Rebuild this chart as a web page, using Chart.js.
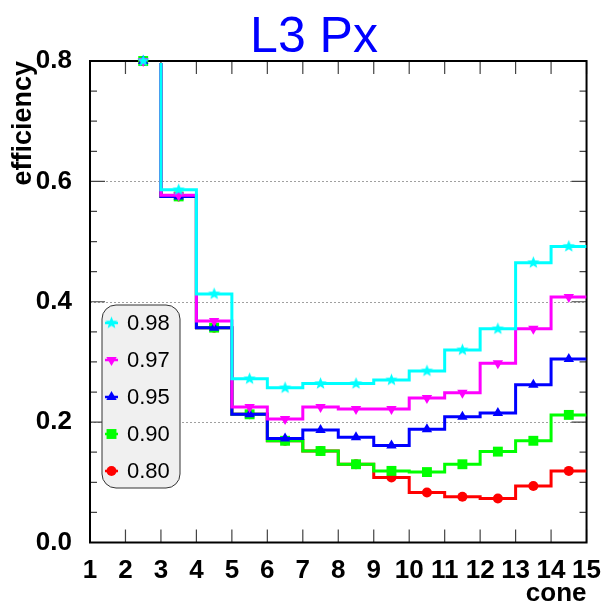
<!DOCTYPE html>
<html>
<head>
<meta charset="utf-8">
<script src="https://cdn.jsdelivr.net/npm/chart.js@4.4.1/dist/chart.umd.min.js"></script>
<style>
  html, body { margin: 0; padding: 0; background: #ffffff; }
  canvas { display: block; }
</style>
</head>
<body>
<canvas id="c" width="606" height="606"></canvas>
<script>
// Histogram bins along the cone axis: lower edges and centres
const binEdges   = [2, 3, 4, 5, 6, 7, 8, 9, 10, 11, 12, 13, 14, 15];
const binCenters = [2.5, 3.5, 4.5, 5.5, 6.5, 7.5, 8.5, 9.5, 10.5, 11.5, 12.5, 13.5, 14.5];

// Efficiency per bin for each working point
const eff098 = [0.800, 0.586, 0.413, 0.272, 0.257, 0.264, 0.264, 0.270, 0.285, 0.320, 0.355, 0.465, 0.492];
const eff097 = [0.800, 0.577, 0.368, 0.225, 0.205, 0.225, 0.222, 0.222, 0.240, 0.249, 0.298, 0.355, 0.408];
const eff095 = [0.800, 0.575, 0.357, 0.213, 0.173, 0.187, 0.175, 0.161, 0.188, 0.209, 0.215, 0.262, 0.305];
const eff090 = [0.800, 0.575, 0.357, 0.213, 0.169, 0.152, 0.130, 0.119, 0.117, 0.130, 0.151, 0.169, 0.212];
const eff080 = [0.800, 0.575, 0.357, 0.213, 0.169, 0.152, 0.130, 0.108, 0.083, 0.076, 0.073, 0.094, 0.119];

const seriesLabels = ['0.98', '0.97', '0.95', '0.90', '0.80'];
const seriesValues = [eff098, eff097, eff095, eff090, eff080];

// Axis ticks
const xTickValues = [1, 2, 3, 4, 5, 6, 7, 8, 9, 10, 11, 12, 13, 14, 15];
const yTickValues = [0, 0.2, 0.4, 0.6, 0.8];
const yTickLabels = ['0.0', '0.2', '0.4', '0.6', '0.8'];

const chartTitle = 'L3 Px';
const xTitle = 'cone';
const yTitle = 'efficiency';

const FONT = "'Liberation Sans', Arial, Helvetica, sans-serif";

// Filled five-pointed star used as a marker
function makeStar(color, outer, inner) {
  const size = Math.ceil(outer * 2 + 2);
  const cv = document.createElement('canvas');
  cv.width = size; cv.height = size;
  const g = cv.getContext('2d');
  const cx = size / 2, cy = size / 2;
  g.beginPath();
  for (let k = 0; k < 10; k++) {
    const r = k % 2 === 0 ? outer : inner;
    const a = -Math.PI / 2 + k * Math.PI / 5;
    const px = cx + r * Math.cos(a), py = cy + r * Math.sin(a);
    if (k === 0) g.moveTo(px, py); else g.lineTo(px, py);
  }
  g.closePath();
  g.fillStyle = color;
  g.fill();
  return cv;
}

const styles = [
  { color: '#00ffff', pointStyle: makeStar('#00ffff', 6.5, 2.8), radius: 6, rotation: 0 },
  { color: '#ff00ff', pointStyle: 'triangle', radius: 6, rotation: 180 },
  { color: '#0000ff', pointStyle: 'triangle', radius: 6, rotation: 0 },
  { color: '#00ff00', pointStyle: 'rect', radius: 7, rotation: 0 },
  { color: '#ff0000', pointStyle: 'circle', radius: 5, rotation: 0 }
];

// One stepped outline plus one marker set per series; the first dataset is painted last
const datasets = [];
seriesValues.forEach((vals, s) => {
  const st = styles[s];
  datasets.push({
    label: seriesLabels[s],
    kind: 'markers',
    data: binCenters.map((x, i) => ({ x, y: vals[i] })),
    showLine: false,
    pointStyle: st.pointStyle,
    pointRadius: st.radius,
    pointRotation: st.rotation,
    pointBackgroundColor: st.color,
    pointBorderColor: st.color,
    pointBorderWidth: 0,
    clip: false
  });
  datasets.push({
    label: seriesLabels[s] + ' outline',
    kind: 'outline',
    data: binEdges.map((x, i) => ({ x, y: vals[Math.min(i, vals.length - 1)] })),
    stepped: true,
    borderColor: st.color,
    borderWidth: 3,
    pointRadius: 0,
    fill: false,
    clip: { left: 0, top: -2, right: 0, bottom: 0 }
  });
});

// Frame, inward tick marks and dotted grid
const framePlugin = {
  id: 'frame',
  beforeDatasetsDraw(chart) {
    const { ctx, chartArea: a, scales: { x, y } } = chart;
    ctx.save();
    ctx.strokeStyle = '#a0a0a0';
    ctx.lineWidth = 1;
    ctx.setLineDash([2, 2]);
    yTickValues.forEach(v => {
      if (v <= 0 || v >= 0.8) return;
      const py = Math.round(y.getPixelForValue(v)) + 0.5;
      ctx.beginPath(); ctx.moveTo(a.left, py); ctx.lineTo(a.right, py); ctx.stroke();
    });
    ctx.setLineDash([]);

    ctx.strokeStyle = '#444';
    ctx.lineWidth = 1.2;
    for (let k = 0; k <= 16; k++) {
      const v = k * 0.05;
      const py = y.getPixelForValue(v);
      const len = (k % 4 === 0) ? 15 : 7;
      ctx.beginPath();
      ctx.moveTo(a.left, py); ctx.lineTo(a.left + len, py);
      ctx.moveTo(a.right, py); ctx.lineTo(a.right - len, py);
      ctx.stroke();
    }
    xTickValues.forEach(v => {
      const px = x.getPixelForValue(v);
      ctx.beginPath();
      ctx.moveTo(px, a.bottom); ctx.lineTo(px, a.bottom - 13);
      ctx.moveTo(px, a.top); ctx.lineTo(px, a.top + 13);
      ctx.stroke();
    });

    ctx.strokeStyle = '#000';
    ctx.lineWidth = 2;
    ctx.strokeRect(a.left, a.top, a.right - a.left, a.bottom - a.top);
    ctx.restore();
  },
  afterDraw(chart) {
    const { ctx } = chart;
    ctx.save();
    ctx.fillStyle = '#0000ff';
    ctx.font = '50px ' + FONT;
    ctx.textAlign = 'center';
    ctx.textBaseline = 'alphabetic';
    ctx.fillText(chartTitle, 314, 52);
    ctx.restore();
  }
};

// Rounded legend box inside the plot
const legendPlugin = {
  id: 'boxLegend',
  afterDatasetsDraw(chart) {
    const { ctx } = chart;
    const bx = 102, by = 305, bw = 78, bh = 183, r = 14;
    ctx.save();
    ctx.beginPath();
    ctx.roundRect(bx, by, bw, bh, r);
    ctx.fillStyle = '#f0f0f0';
    ctx.fill();
    ctx.strokeStyle = '#333';
    ctx.lineWidth = 1;
    ctx.stroke();

    const markers = chart.data.datasets.filter(d => d.kind === 'markers');
    markers.forEach((d, i) => {
      const cy = 323 + i * 37;
      const cx = 111.5;
      ctx.strokeStyle = d.pointBorderColor;
      ctx.lineWidth = 2.5;
      ctx.beginPath(); ctx.moveTo(105, cy); ctx.lineTo(118, cy); ctx.stroke();
      ctx.fillStyle = d.pointBackgroundColor;
      ctx.strokeStyle = d.pointBorderColor;
      ctx.lineWidth = 0.01;
      Chart.helpers.drawPoint(ctx, {
        pointStyle: d.pointStyle,
        radius: d.pointRadius,
        rotation: d.pointRotation,
        borderWidth: 0
      }, cx, cy);
      ctx.fillStyle = '#000';
      ctx.font = '22px ' + FONT;
      ctx.textAlign = 'left';
      ctx.textBaseline = 'middle';
      ctx.fillText(d.label, 127, cy + 1);
    });
    ctx.restore();
  }
};

new Chart(document.getElementById('c'), {
  type: 'line',
  data: { datasets },
  options: {
    responsive: false,
    animation: false,
    events: [],
    layout: { padding: { left: 0, top: 61, right: 15.5, bottom: 0 } },
    plugins: {
      legend: { display: false },
      tooltip: { enabled: false },
      title: { display: false }
    },
    scales: {
      x: {
        type: 'linear',
        min: 1, max: 15,
        afterBuildTicks: s => { s.ticks = xTickValues.map(v => ({ value: v })); },
        afterFit: s => { s.height = 63.5; },
        grid: { display: false },
        border: { display: false },
        ticks: {
          autoSkip: false, maxRotation: 0, padding: 5,
          color: '#000',
          font: { family: FONT, size: 26, weight: 'bold' },
          callback: v => String(v)
        },
        title: {
          display: true, text: xTitle, align: 'end', color: '#000',
          padding: { top: 0, bottom: -3 },
          font: { family: FONT, size: 26, weight: 'bold' }
        }
      },
      y: {
        type: 'linear',
        min: 0, max: 0.8,
        afterBuildTicks: s => { s.ticks = yTickValues.map(v => ({ value: v })); },
        afterFit: s => { s.width = 90; },
        grid: { display: false },
        border: { display: false },
        ticks: {
          padding: 10, color: '#000',
          font: { family: FONT, size: 26, weight: 'bold' },
          callback: (v, i) => yTickLabels[i]
        },
        title: {
          display: true, text: yTitle, align: 'end', color: '#000',
          padding: { top: 7, bottom: 0 },
          font: { family: FONT, size: 27, weight: 'bold' }
        }
      }
    }
  },
  plugins: [framePlugin, legendPlugin]
});
</script>
</body>
</html>
